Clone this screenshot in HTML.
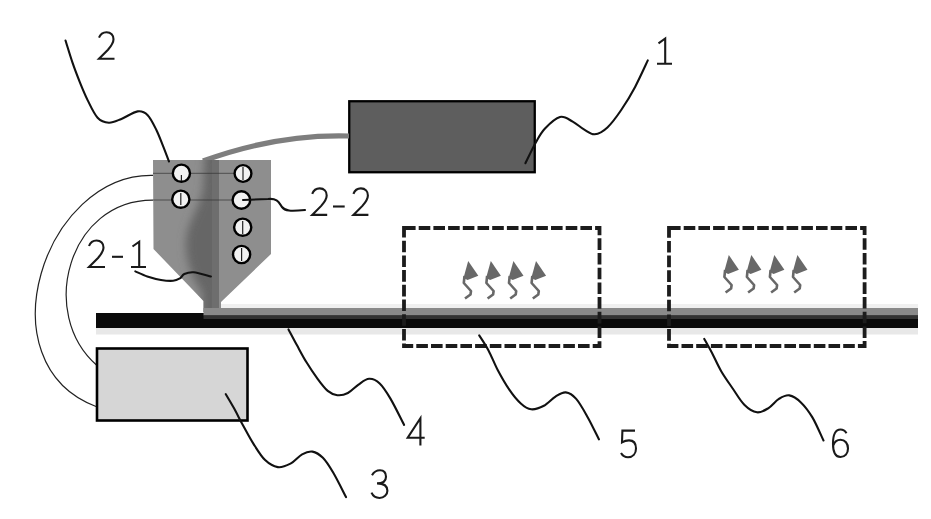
<!DOCTYPE html>
<html><head><meta charset="utf-8">
<style>
html,body{margin:0;padding:0;background:#fff;width:931px;height:519px;overflow:hidden;font-family:"Liberation Sans",sans-serif;}
svg{display:block;position:absolute;left:0;top:0;}
</style></head>
<body>
<svg width="931" height="519" viewBox="0 0 931 519">
<rect x="0" y="0" width="931" height="519" fill="#fff"/>

<!-- thin wires from nozzle to box 3 -->
<g fill="none" stroke="#222" stroke-width="1.2">
<path d="M153.1,175.3 C44.3,172.9 -17.7,363.2 96,406.5"/>
<path d="M153.1,200.1 C68.9,199.6 37.3,313.4 97,365.5"/>
</g>

<!-- box 1 -->
<rect x="349.25" y="101.25" width="185.5" height="71" fill="#5e5e5e" stroke="#000" stroke-width="2.3"/>

<!-- cable -->
<path d="M203,161 C251.2,143.4 300.1,134.6 349,136" fill="none" stroke="#7e7e7e" stroke-width="5.2"/>

<!-- nozzle -->
<polygon points="153,160 271,160 271,254 221,302 221,312 203.5,312 203.5,301 153.5,249" fill="#8e8e8e"/>
<defs>
<clipPath id="nz"><polygon points="153,160 219,160 219,312 203.5,312 203.5,301 153.5,249"/></clipPath>
<filter id="bl" x="-50%" y="-50%" width="200%" height="200%"><feGaussianBlur stdDeviation="4"/></filter>
</defs>
<g clip-path="url(#nz)">
<g filter="url(#bl)">
<path d="M205,150 L230,150 L230,320 L202,320 L202,292 C194,282 185,262 186,242 C187,222 198,212 203,190 Z" fill="#666"/>
</g>
<rect x="212" y="160" width="7" height="152" fill="#6e6e6e"/>
</g>

<!-- circle row lines -->
<g stroke="#333" stroke-width="1" opacity="0.7">
<line x1="153" y1="173.3" x2="243" y2="173.3"/>
<line x1="153" y1="200" x2="243" y2="200"/>
</g>

<!-- circles -->
<g fill="#f2f2f2" stroke="#000" stroke-width="2.4">
<circle cx="181.4" cy="173.2" r="8.6"/>
<circle cx="180.8" cy="199.2" r="8.6"/>
<circle cx="243" cy="173.5" r="8.4"/>
<circle cx="241.4" cy="200" r="8.8"/>
<circle cx="242.7" cy="227.2" r="8.6"/>
<circle cx="241.6" cy="254.5" r="8.6"/>
</g>
<g stroke="#222" stroke-width="1.2">
<line x1="181.4" y1="175" x2="181.4" y2="181"/>
<line x1="180.8" y1="193" x2="180.8" y2="205"/>
<line x1="243" y1="167" x2="243" y2="180"/>
<line x1="242.7" y1="221" x2="242.7" y2="234"/>
<line x1="241.6" y1="248" x2="241.6" y2="261"/>
</g>

<!-- belt -->
<rect x="96" y="328" width="822" height="6.5" fill="#e8e8e8"/>
<rect x="221" y="304" width="697" height="4" fill="#f0f0f0"/>
<rect x="96" y="313" width="822" height="15" fill="#0a0a0a"/>
<rect x="203.5" y="308" width="714.5" height="7.5" fill="#8a8a8a"/>
<rect x="203.5" y="315.5" width="714.5" height="3.5" fill="#333"/>

<!-- box 3 -->
<rect x="97" y="348.5" width="150.5" height="72" fill="#d6d6d6" stroke="#000" stroke-width="2.6"/>

<!-- dashed boxes -->
<g fill="none" stroke="#1c1c1c" stroke-width="3.8" stroke-dasharray="11.6 3.1">
<rect x="404" y="228" width="195.5" height="118"/>
<rect x="669" y="228" width="195.6" height="118"/>
</g>

<!-- heat symbols -->
<defs>
<g id="heat">
<polygon points="5.2,0 15.3,14.8 4.5,19 0.5,17" fill="#686868"/>
<polyline points="1.5,15 0.8,22 8,30 7.5,33.5 2,37.5" fill="none" stroke="#686868" stroke-width="2.6" stroke-linejoin="round"/>
</g>
</defs>
<use href="#heat" x="463" y="261"/>
<use href="#heat" x="485.6" y="261"/>
<use href="#heat" x="508.2" y="261"/>
<use href="#heat" x="530.8" y="261"/>
<use href="#heat" x="723.6" y="255"/>
<use href="#heat" x="746.1" y="255"/>
<use href="#heat" x="769.1" y="255"/>
<use href="#heat" x="792.2" y="255"/>

<!-- leader lines -->
<g fill="none" stroke="#111" stroke-width="2.1" stroke-linecap="round">
<path d="M65.5,40.5 C66.7,44.2 70.1,55.6 72.5,62.6 C74.9,69.6 77.5,76.3 80.0,82.6 C82.5,88.8 84.7,94.2 87.6,100.1 C90.5,105.9 94.0,113.9 97.6,117.7 C101.1,121.5 104.9,122.5 108.9,122.7 C112.9,122.9 116.6,120.8 121.4,118.9 C126.2,117.0 133.3,112.0 137.7,111.4 C142.1,110.8 144.6,112.1 147.7,115.2 C150.8,118.3 154.0,125.2 156.5,130.2 C159.0,135.2 160.6,140.0 162.7,145.2 C164.8,150.4 167.9,158.8 169.0,161.5"/>
<path d="M525.4,163.2 C527.1,159.7 532.5,148.2 535.8,142.4 C539.1,136.6 541.0,132.7 545.0,128.5 C549.0,124.3 555.4,118.2 560.0,117.0 C564.6,115.8 568.7,119.5 572.7,121.6 C576.8,123.7 580.6,127.6 584.3,129.7 C588.0,131.8 590.9,134.7 594.7,134.3 C598.6,133.9 603.0,131.5 607.4,127.4 C611.8,123.4 616.6,116.8 621.2,110.0 C625.8,103.2 630.7,95.2 635.1,86.9 C639.5,78.6 645.7,64.8 647.8,60.4"/>
<path d="M243,200 L268,199 C278,198 279,203 282,207 C285,211 290,211.5 305,210"/>
<path d="M135.3,271.4 C137.3,272.2 143.0,275.1 147.3,276.5 C151.6,277.9 156.7,279.3 161.0,280.0 C165.3,280.7 169.9,281.1 173.1,280.8 C176.3,280.5 178.1,279.4 180.0,278.3 C181.9,277.2 182.0,275.0 184.3,274.0 C186.6,273.0 189.3,271.9 193.7,272.3 C198.1,272.7 208.0,275.8 210.9,276.5"/>
<path d="M225.8,394.2 C227.2,396.5 231.0,402.9 233.9,408.1 C236.8,413.3 239.8,419.5 243.1,425.5 C246.4,431.5 249.8,438.1 253.5,443.9 C257.2,449.7 261.1,456.2 265.1,460.1 C269.2,464.0 273.6,466.5 277.8,467.1 C282.0,467.7 286.4,465.7 290.5,463.6 C294.6,461.5 298.4,456.3 302.1,454.3 C305.8,452.3 309.0,451.0 312.5,451.6 C316.0,452.2 319.4,454.3 322.9,457.8 C326.4,461.3 329.4,466.2 333.3,472.8 C337.2,479.4 343.9,493.1 346.0,497.1"/>
<path d="M288.5,329.4 C289.9,332.0 294.0,339.8 297.0,345.3 C300.0,350.8 303.1,356.8 306.5,362.3 C309.9,367.8 313.6,373.4 317.1,378.2 C320.6,383.0 324.3,388.1 327.7,390.9 C331.1,393.7 333.9,394.8 337.3,395.2 C340.7,395.6 344.4,394.8 347.9,393.0 C351.4,391.2 355.0,387.0 358.5,384.6 C362.0,382.2 365.6,379.0 369.1,378.8 C372.6,378.6 376.2,380.2 379.7,383.5 C383.2,386.8 386.2,391.5 390.3,398.4 C394.4,405.3 401.8,420.5 404.1,424.9"/>
<path d="M479.2,335.4 C480.8,337.9 485.4,344.6 488.5,350.4 C491.6,356.2 494.2,363.4 497.7,370.0 C501.2,376.6 505.5,384.1 509.3,389.7 C513.1,395.3 517.1,400.2 520.8,403.5 C524.4,406.8 527.4,408.9 531.2,409.3 C535.1,409.7 539.9,407.9 543.9,405.8 C547.9,403.7 551.9,398.8 555.5,396.6 C559.1,394.4 562.3,392.0 565.8,392.4 C569.2,392.8 572.5,394.7 576.2,398.9 C579.9,403.1 584.0,410.7 587.8,417.4 C591.6,424.1 597.0,435.6 598.9,439.3"/>
<path d="M704.3,338.9 C705.6,341.2 709.1,347.3 711.9,352.7 C714.7,358.1 717.7,365.2 721.2,371.2 C724.7,377.2 728.9,382.9 732.7,388.5 C736.6,394.1 740.2,400.7 744.3,404.7 C748.3,408.7 753.0,411.7 757.0,412.3 C761.0,412.9 764.9,410.3 768.5,408.1 C772.1,405.9 775.4,401.0 778.9,398.9 C782.4,396.8 785.6,394.8 789.3,395.4 C793.0,396.0 797.0,398.7 800.9,402.4 C804.8,406.1 808.6,411.0 812.4,417.4 C816.2,423.8 821.6,436.6 823.5,440.5"/>
</g>

<!-- digits -->
<g fill="none" stroke="#1a1a1a" stroke-width="2.1" stroke-linecap="butt" stroke-linejoin="miter">
<!-- 2 top -->
<path transform="translate(98,32.2)" d="M1,5.5 C2.5,1.5 5,0 8.5,0 C13,0 15.5,3 15.5,7 C15.5,11 13,14 10,17.5 L1,26.5 L16.5,26.5"/>
<!-- 1 -->
<path transform="translate(657,37.3)" d="M1.5,6 L8.2,1.2 L8.2,26.5 M0,26.5 L15,26.5"/>
<!-- 2-2 -->
<path transform="translate(311.2,188.4)" d="M1,5.5 C2.5,1.5 5,0 8.5,0 C13,0 15.5,3 15.5,7 C15.5,11 13,14 10,17.5 L1,26.5 L16,26.5"/>
<path d="M333,206.5 L344.7,206.5"/>
<path transform="translate(352.4,188.4)" d="M1,5.5 C2.5,1.5 5,0 8.5,0 C13,0 15.5,3 15.5,7 C15.5,11 13,14 10,17.5 L1,26.5 L16,26.5"/>
<!-- 2-1 -->
<path transform="translate(88,240.5)" d="M1,5.5 C2.5,1.5 5,0 8.5,0 C13,0 15.5,3 15.5,7 C15.5,11 13,14 10,17.5 L1,26.5 L17,26.5"/>
<path d="M112,256.8 L123,256.8"/>
<path transform="translate(131,240.5)" d="M1.5,6 L8.2,1.2 L8.2,26.5 M0,26.5 L15,26.5"/>
<!-- 3 -->
<path transform="translate(371,470.2)" d="M1,5 C3,1.5 6,0 9,0 C13,0 15,2.5 15,6.5 C15,10.5 12.5,13.2 6,13.2 C13,13.2 16.4,16 16.4,20.5 C16.4,24.5 13,27.8 8.5,27.8 C5,27.8 2,26 0.5,22.5"/>
<!-- 4 -->
<path transform="translate(407,418.2)" d="M13.4,27.3 L13.4,0 L0.7,19.5 L17.7,19.5"/>
<!-- 5 -->
<path transform="translate(620,430.6)" d="M15,0 L2.4,0 L2,11.7 C4,10.5 6.5,9.8 9,9.8 C13.5,9.8 16,13 16,18 C16,23.2 12.8,26.7 8,26.7 C5,26.7 2.5,25.2 1,22.5"/>
<!-- 6 -->
<path transform="translate(832,429.5)" d="M14.5,3.7 C13,1.3 11,0 8.5,0 C3.5,0 1,5 1,14 C1,23 4,27.5 8.5,27.5 C13,27.5 16,24 16,19 C16,14 13,10.3 8.5,10.3 C5,10.3 2.5,12.5 1.3,16"/>
</g>
</svg>
</body></html>
